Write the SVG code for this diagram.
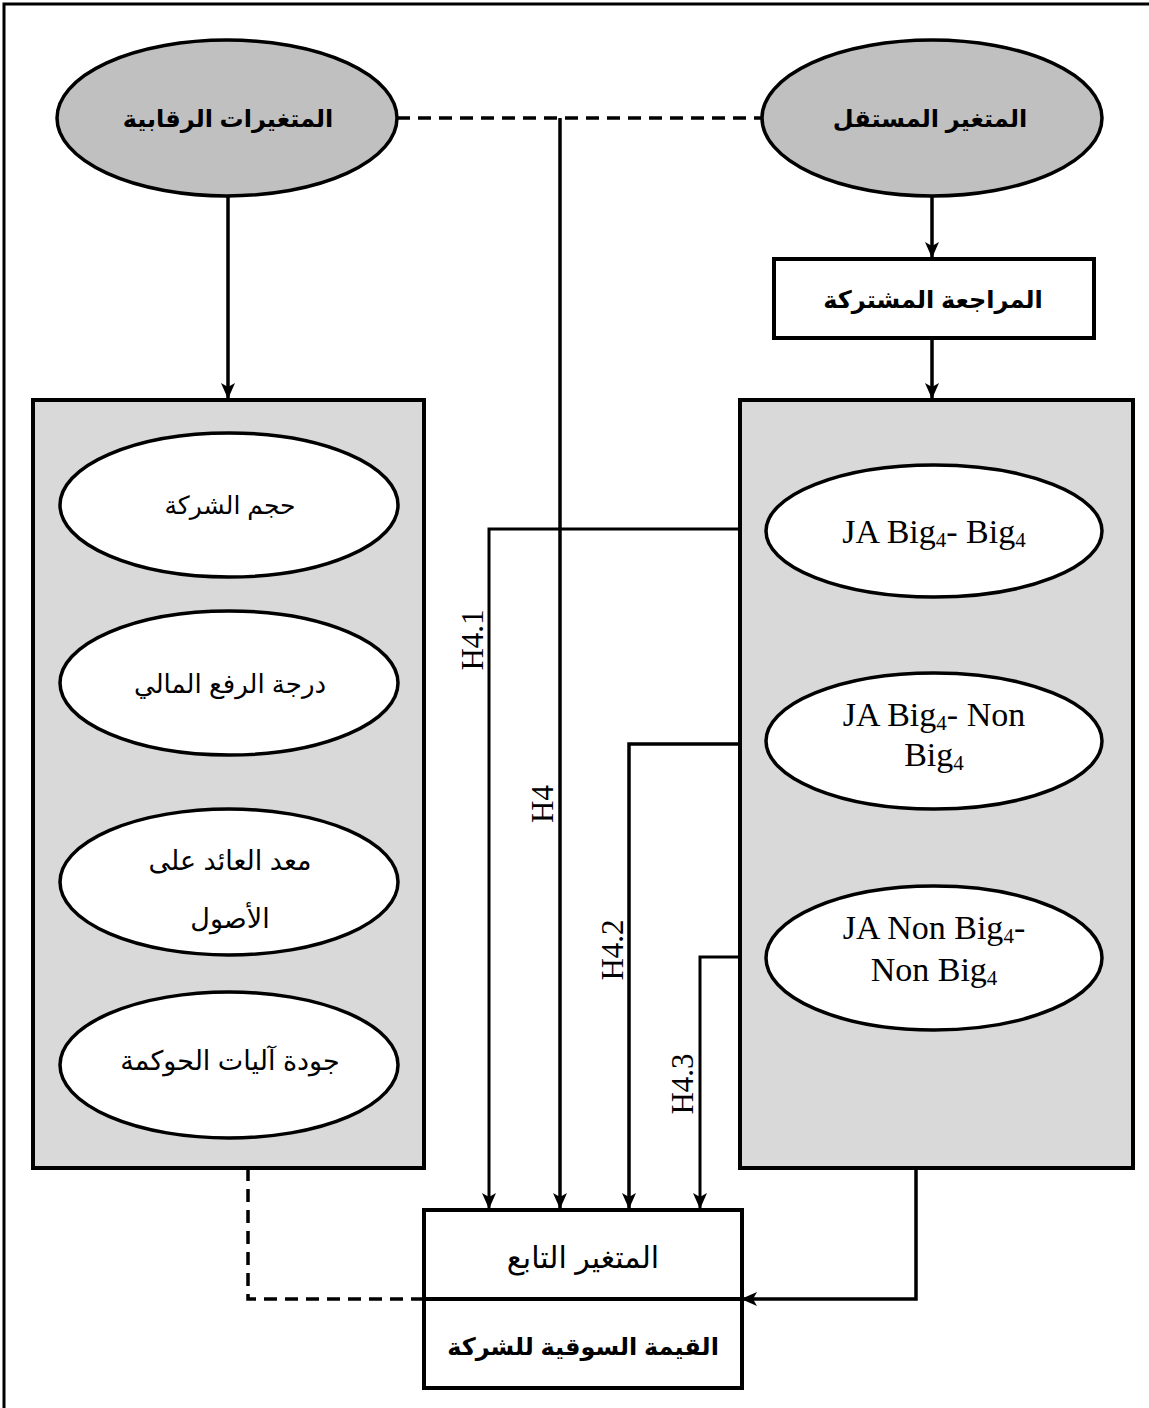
<svg xmlns="http://www.w3.org/2000/svg" width="1149" height="1408" viewBox="0 0 1149 1408">
<defs>
<marker id="ah" viewBox="0 0 16 16" refX="15" refY="8" markerWidth="16" markerHeight="16" orient="auto" markerUnits="userSpaceOnUse"><path d="M0,1 L16,8 L0,15 L4,8 z" fill="#000"/></marker>
<style>
.ar{font-family:"Liberation Sans","DejaVu Sans",sans-serif;fill:#000;text-anchor:middle}
.arb{font-family:"Liberation Sans","DejaVu Sans",sans-serif;font-weight:bold;fill:#000;text-anchor:middle}
.tm{font-family:"Liberation Serif","Times New Roman",serif;fill:#000;text-anchor:middle}
.el{fill:#fff;stroke:#000;stroke-width:3.5}
.elg{fill:#c0c0c0;stroke:#000;stroke-width:3.5}
.bx{fill:#fff;stroke:#000;stroke-width:4}
.gb{fill:#d9d9d9;stroke:#000;stroke-width:4}
.ln{fill:none;stroke:#000;stroke-width:3.5}
.ln2{fill:none;stroke:#000;stroke-width:3}
.dash{fill:none;stroke:#000;stroke-width:3.5;stroke-dasharray:13 8}
</style>
</defs>
<rect width="1149" height="1408" fill="#fff"/>
<rect x="4" y="4" width="1170" height="1430" fill="none" stroke="#000" stroke-width="3"/>

<g id="connectors">
<path class="dash" d="M397,118 H763"/>
<path class="ln" d="M560,118 V1208" marker-end="url(#ah)"/>
<path class="ln" d="M228,196 V398" marker-end="url(#ah)"/>
<path class="ln" d="M932,196 V257" marker-end="url(#ah)"/>
<path class="ln" d="M932,338 V398" marker-end="url(#ah)"/>
<path class="ln" d="M933,598 V671" marker-end="url(#ah)"/>
<path class="ln" d="M933,808 V884" marker-end="url(#ah)"/>
<path class="ln2" d="M740,529 H489 V1208" marker-end="url(#ah)"/>
<path class="ln" d="M740,744 H629 V1208" marker-end="url(#ah)"/>
<path class="ln2" d="M740,957 H700 V1208" marker-end="url(#ah)"/>
<path class="ln" d="M916,1168 V1299 H742" marker-end="url(#ah)"/>
<path class="dash" d="M248,1168 V1299 H424"/>
<text class="tm" font-size="31" transform="translate(483,640) rotate(-90)">H4.1</text>
<text class="tm" font-size="31" transform="translate(553,804) rotate(-90)">H4</text>
<text class="tm" font-size="31" transform="translate(623,950) rotate(-90)">H4.2</text>
<text class="tm" font-size="31" transform="translate(693,1084) rotate(-90)">H4.3</text>
</g>

<g id="control-vars">
<ellipse class="elg" cx="227" cy="118" rx="170" ry="78"/>
<text class="arb" x="228" y="127" font-size="24">المتغيرات الرقابية</text>
</g>
<g id="independent-var">
<ellipse class="elg" cx="932" cy="118" rx="170" ry="78"/>
<text class="arb" x="930" y="127" font-size="24">المتغير المستقل</text>
</g>
<g id="joint-audit">
<rect class="bx" x="774" y="259" width="320" height="79"/>
<text class="arb" x="933" y="308" font-size="24">المراجعة المشتركة</text>
</g>

<g id="control-box">
<rect class="gb" x="33" y="400" width="391" height="768"/>
</g>
<g id="firm-size">
<ellipse class="el" cx="229" cy="505" rx="169" ry="72"/>
<text class="ar" x="230" y="514" font-size="25">حجم الشركة</text>
</g>
<g id="leverage">
<ellipse class="el" cx="229" cy="683" rx="169" ry="72"/>
<text class="ar" x="230" y="693" font-size="26">درجة الرفع المالي</text>
</g>
<g id="roa">
<ellipse class="el" cx="229" cy="882" rx="169" ry="73"/>
<text class="ar" x="230" y="870" font-size="27">معد العائد على</text>
<text class="ar" x="230" y="928" font-size="27">الأصول</text>
</g>
<g id="governance">
<ellipse class="el" cx="229" cy="1065" rx="169" ry="73"/>
<text class="ar" x="230" y="1070" font-size="27">جودة آليات الحوكمة</text>
</g>

<g id="ja-box">
<rect class="gb" x="740" y="400" width="393" height="768"/>
</g>
<g id="ja1">
<ellipse class="el" cx="934" cy="531" rx="168" ry="66"/>
<text class="tm" x="934" y="543" font-size="34">JA Big<tspan font-size="21" dy="4">4</tspan><tspan dy="-4">- Big</tspan><tspan font-size="21" dy="4">4</tspan></text>
</g>
<g id="ja2">
<ellipse class="el" cx="934" cy="741" rx="168" ry="68"/>
<text class="tm" x="934" y="726" font-size="34">JA Big<tspan font-size="21" dy="4">4</tspan><tspan dy="-4">- Non</tspan></text>
<text class="tm" x="934" y="766" font-size="34">Big<tspan font-size="21" dy="4">4</tspan></text>
</g>
<g id="ja3">
<ellipse class="el" cx="934" cy="958" rx="168" ry="72"/>
<text class="tm" x="934" y="939" font-size="34">JA Non Big<tspan font-size="21" dy="4">4</tspan><tspan dy="-4">-</tspan></text>
<text class="tm" x="934" y="981" font-size="34">Non Big<tspan font-size="21" dy="4">4</tspan></text>
</g>

<g id="dependent-var">
<rect class="bx" x="424" y="1210" width="318" height="178"/>
<line x1="424" y1="1299" x2="742" y2="1299" stroke="#000" stroke-width="4"/>
<text class="ar" x="583" y="1268" font-size="30">المتغير التابع</text>
<text class="arb" x="583" y="1355" font-size="24">القيمة السوقية للشركة</text>
</g>
</svg>
